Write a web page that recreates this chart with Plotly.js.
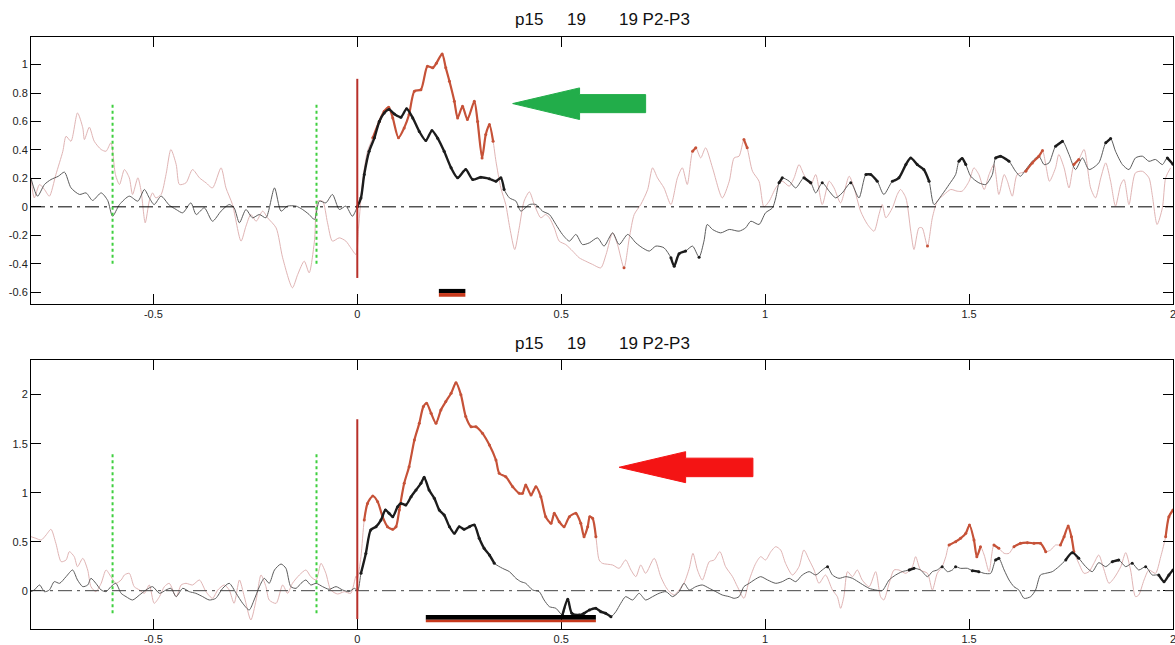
<!DOCTYPE html>
<html><head><meta charset="utf-8">
<script src="https://cdn.plot.ly/plotly-3.0.1.min.js"></script>
<style>html,body{margin:0;padding:0;background:#fff;overflow:hidden}#chart{width:1175px;height:645px}</style>
</head><body><div id="chart"></div>
<script>
// ---------------- data ----------------
const panelTitle = "p15\u00a0\u00a0\u00a0\u00a0\u00a019\u00a0\u00a0\u00a0\u00a0\u00a0\u00a0\u00a019 P2-P3";
const xTickVals = [-0.5, 0, 0.5, 1, 1.5, 2];
const xTickText = ["-0.5", "0", "0.5", "1", "1.5", "2"];
const topYTickVals = [-0.6, -0.4, -0.2, 0, 0.2, 0.4, 0.6, 0.8, 1];
const topYTickText = ["-0.6", "-0.4", "-0.2", "0", "0.2", "0.4", "0.6", "0.8", "1"];
const botYTickVals = [0, 0.5, 1, 1.5, 2];
const botYTickText = ["0", "0.5", "1", "1.5", "2"];

const cueTimes = [-0.6, -0.1];
const onsetTime = [0];

// top panel, dark curve
const topBlackT = [-0.800,-0.784,-0.767,-0.751,-0.733,-0.718,-0.702,-0.681,-0.665,-0.649,-0.628,-0.612,-0.600,-0.583,-0.559,-0.538,-0.522,-0.510,-0.498,-0.481,-0.461,-0.444,-0.428,-0.408,-0.395,-0.375,-0.355,-0.334,-0.314,-0.302,-0.289,-0.273,-0.257,-0.240,-0.224,-0.203,-0.187,-0.171,-0.150,-0.134,-0.118,-0.105,-0.093,-0.077,-0.061,-0.044,-0.028,-0.012,0.000,0.009,0.017,0.029,0.042,0.054,0.066,0.078,0.091,0.107,0.121,0.136,0.152,0.168,0.183,0.197,0.213,0.230,0.246,0.266,0.283,0.303,0.324,0.340,0.352,0.360,0.373,0.389,0.401,0.422,0.438,0.454,0.471,0.487,0.503,0.520,0.536,0.552,0.569,0.589,0.605,0.626,0.642,0.663,0.683,0.699,0.716,0.732,0.752,0.769,0.777,0.789,0.805,0.822,0.838,0.850,0.858,0.871,0.891,0.912,0.936,0.952,0.965,0.985,1.001,1.018,1.026,1.034,1.042,1.059,1.075,1.095,1.112,1.124,1.140,1.157,1.173,1.189,1.210,1.230,1.247,1.259,1.275,1.291,1.312,1.328,1.345,1.357,1.373,1.389,1.402,1.414,1.434,1.451,1.467,1.475,1.483,1.492,1.504,1.524,1.541,1.557,1.565,1.577,1.598,1.614,1.626,1.639,1.655,1.671,1.684,1.696,1.712,1.729,1.745,1.761,1.778,1.794,1.818,1.835,1.847,1.859,1.876,1.892,1.908,1.925,1.941,1.957,1.974,1.986,2.000];
const topBlackV = [0.200,0.075,0.157,0.192,0.215,0.244,0.134,0.087,0.098,0.045,0.098,0.045,-0.066,0.016,0.075,0.040,0.122,0.063,0.016,0.075,0.012,-0.019,-0.042,0.028,-0.054,-0.007,-0.101,-0.030,0.016,-0.007,-0.112,-0.019,-0.077,-0.054,-0.077,0.133,-0.030,0.005,0.005,-0.019,-0.054,-0.089,0.040,0.028,0.087,-0.019,0.005,-0.066,0.000,0.063,0.227,0.390,0.485,0.600,0.660,0.684,0.652,0.630,0.690,0.625,0.530,0.466,0.536,0.483,0.390,0.274,0.204,0.262,0.192,0.208,0.197,0.180,0.204,0.122,0.063,0.040,-0.030,0.016,0.016,-0.030,-0.054,-0.124,-0.194,-0.241,-0.194,-0.265,-0.253,-0.218,-0.276,-0.183,-0.265,-0.194,-0.253,-0.288,-0.311,-0.276,-0.288,-0.358,-0.417,-0.330,-0.311,-0.276,-0.354,-0.241,-0.124,-0.159,-0.183,-0.159,-0.171,-0.148,-0.101,-0.124,-0.042,-0.007,0.063,0.169,0.204,0.180,0.133,0.204,0.169,0.098,0.169,0.110,0.063,0.098,0.169,0.063,0.227,0.227,0.180,0.087,0.180,0.204,0.297,0.344,0.297,0.262,0.180,0.016,0.087,0.157,0.227,0.320,0.340,0.297,0.215,0.169,0.157,0.227,0.344,0.356,0.320,0.250,0.215,0.262,0.320,0.356,0.297,0.309,0.426,0.461,0.368,0.262,0.344,0.262,0.309,0.450,0.480,0.391,0.297,0.262,0.344,0.356,0.320,0.333,0.297,0.344,0.300];
const topBlackSig = [[0.0,0.36],[0.765,0.81],[0.834,0.845],[1.03,1.05],[1.09,1.115],[1.135,1.145],[1.205,1.215],[1.24,1.275],[1.31,1.405],[1.47,1.495],[1.56,1.60],[1.70,1.735],[1.83,1.85],[1.985,2.0]];

// top panel, light curve
const topPinkT = [-0.800,-0.792,-0.779,-0.767,-0.755,-0.739,-0.722,-0.714,-0.702,-0.686,-0.673,-0.669,-0.657,-0.645,-0.628,-0.616,-0.604,-0.593,-0.583,-0.571,-0.559,-0.551,-0.538,-0.530,-0.520,-0.510,-0.502,-0.494,-0.481,-0.469,-0.457,-0.444,-0.436,-0.420,-0.404,-0.387,-0.371,-0.355,-0.334,-0.322,-0.306,-0.285,-0.273,-0.261,-0.248,-0.232,-0.220,-0.199,-0.183,-0.159,-0.146,-0.130,-0.118,-0.105,-0.097,-0.085,-0.073,-0.061,-0.044,-0.028,-0.016,-0.003,0.003,0.013,0.025,0.038,0.054,0.066,0.077,0.087,0.101,0.115,0.127,0.140,0.156,0.172,0.185,0.194,0.208,0.217,0.226,0.238,0.246,0.258,0.270,0.287,0.295,0.306,0.315,0.324,0.333,0.340,0.352,0.364,0.374,0.386,0.397,0.409,0.422,0.434,0.450,0.462,0.471,0.483,0.495,0.511,0.528,0.544,0.560,0.577,0.597,0.610,0.626,0.638,0.654,0.667,0.679,0.695,0.712,0.724,0.736,0.752,0.769,0.785,0.797,0.809,0.822,0.830,0.842,0.854,0.871,0.895,0.912,0.924,0.936,0.948,0.956,0.969,0.985,0.997,1.010,1.026,1.042,1.059,1.071,1.083,1.095,1.112,1.124,1.140,1.157,1.169,1.185,1.206,1.218,1.234,1.251,1.267,1.279,1.287,1.296,1.312,1.324,1.332,1.345,1.357,1.365,1.377,1.385,1.398,1.410,1.422,1.439,1.455,1.471,1.483,1.500,1.512,1.524,1.537,1.549,1.561,1.573,1.586,1.594,1.606,1.618,1.639,1.655,1.671,1.680,1.688,1.697,1.712,1.720,1.733,1.745,1.757,1.769,1.782,1.798,1.810,1.823,1.835,1.847,1.859,1.872,1.880,1.892,1.908,1.925,1.941,1.949,1.961,1.974,1.982,1.994];
const topPinkV = [0.204,0.063,0.157,0.122,0.075,0.227,0.390,0.496,0.461,0.660,0.555,0.473,0.560,0.461,0.403,0.391,0.450,0.227,0.157,0.262,0.204,0.087,0.204,0.110,-0.112,0.040,0.098,0.063,0.087,0.227,0.403,0.297,0.157,0.169,0.262,0.204,0.169,0.133,0.274,0.133,0.016,-0.241,-0.136,-0.054,-0.101,-0.030,-0.077,-0.148,-0.358,-0.569,-0.475,-0.382,-0.464,-0.241,0.040,0.040,-0.112,-0.241,-0.218,-0.241,-0.288,-0.335,-0.150,0.180,0.390,0.485,0.600,0.672,0.700,0.625,0.485,0.555,0.649,0.813,0.824,0.988,0.977,1.010,1.075,0.977,0.883,0.742,0.625,0.707,0.614,0.742,0.600,0.344,0.508,0.578,0.461,0.320,0.133,0.016,-0.148,-0.300,-0.148,0.040,0.105,0.016,-0.077,-0.054,-0.077,-0.148,-0.241,-0.265,-0.311,-0.358,-0.382,-0.405,-0.429,-0.335,-0.183,-0.265,-0.429,-0.218,-0.054,0.016,0.122,0.274,0.204,0.133,0.016,0.204,0.274,0.157,0.390,0.415,0.344,0.415,0.274,0.063,0.180,0.344,0.356,0.473,0.415,0.250,0.180,0.000,0.040,0.133,0.180,0.145,0.204,0.297,0.227,0.157,0.227,0.016,0.180,0.133,0.028,0.215,0.133,-0.030,-0.124,-0.171,-0.054,0.016,-0.077,-0.007,0.087,0.122,0.063,-0.171,-0.300,-0.148,-0.148,-0.276,-0.077,0.040,0.087,0.122,0.110,0.110,0.180,0.274,0.227,0.122,0.227,0.297,0.087,0.227,0.180,0.075,0.227,0.250,0.309,0.356,0.396,0.297,0.180,0.274,0.368,0.274,0.133,0.297,0.333,0.403,0.133,0.063,0.204,0.309,0.180,0.005,0.157,0.192,0.016,0.239,0.250,0.204,0.087,-0.124,-0.007,0.204,0.274];
const topPinkSig = [[0.03,0.335],[0.65,0.66],[0.818,0.832],[0.945,0.96],[1.395,1.40],[1.635,1.685],[1.755,1.77]];

// bottom panel, dark curve
const botBlackT = [-0.800,-0.792,-0.779,-0.767,-0.755,-0.743,-0.730,-0.714,-0.698,-0.686,-0.673,-0.661,-0.653,-0.641,-0.628,-0.616,-0.604,-0.592,-0.579,-0.567,-0.551,-0.534,-0.518,-0.502,-0.485,-0.469,-0.457,-0.444,-0.428,-0.412,-0.396,-0.379,-0.363,-0.347,-0.330,-0.314,-0.297,-0.281,-0.265,-0.253,-0.240,-0.228,-0.216,-0.203,-0.187,-0.175,-0.163,-0.150,-0.138,-0.126,-0.114,-0.101,-0.085,-0.069,-0.052,-0.036,-0.020,-0.007,0.001,0.009,0.021,0.033,0.046,0.058,0.069,0.078,0.087,0.099,0.107,0.119,0.132,0.144,0.156,0.164,0.176,0.189,0.201,0.213,0.226,0.238,0.250,0.262,0.275,0.287,0.299,0.311,0.324,0.336,0.356,0.373,0.389,0.401,0.413,0.430,0.446,0.458,0.471,0.487,0.503,0.516,0.526,0.544,0.556,0.569,0.585,0.597,0.609,0.622,0.634,0.646,0.658,0.675,0.691,0.707,0.724,0.740,0.757,0.773,0.789,0.801,0.814,0.830,0.846,0.863,0.879,0.895,0.912,0.924,0.936,0.948,0.961,0.973,0.989,1.006,1.026,1.042,1.059,1.075,1.091,1.108,1.124,1.140,1.153,1.165,1.181,1.198,1.214,1.234,1.255,1.271,1.287,1.304,1.320,1.336,1.353,1.365,1.381,1.398,1.410,1.422,1.434,1.447,1.459,1.467,1.479,1.496,1.508,1.524,1.537,1.553,1.565,1.573,1.586,1.598,1.610,1.622,1.635,1.651,1.663,1.675,1.688,1.704,1.720,1.737,1.753,1.769,1.786,1.802,1.818,1.835,1.851,1.867,1.884,1.900,1.916,1.933,1.949,1.965,1.978,1.990,2.000];
const botBlackV = [-0.010,0.007,0.058,-0.010,0.007,0.092,0.075,0.143,0.211,0.109,0.041,0.058,0.126,0.075,0.007,-0.010,0.041,0.075,-0.027,-0.061,-0.095,-0.044,0.007,0.041,-0.027,0.007,0.024,-0.061,0.024,-0.010,-0.027,-0.061,-0.095,-0.078,0.024,0.075,-0.027,-0.129,-0.197,-0.095,0.041,0.126,0.075,0.211,0.272,0.228,0.041,0.024,0.075,0.109,0.058,0.075,0.041,0.014,0.041,0.007,-0.010,0.024,0.000,0.177,0.380,0.620,0.653,0.720,0.823,0.789,0.755,0.857,0.890,0.874,0.959,1.027,1.095,1.156,1.027,0.942,0.823,0.772,0.653,0.585,0.653,0.626,0.653,0.670,0.534,0.432,0.364,0.279,0.228,0.194,0.126,0.092,0.075,0.007,-0.010,-0.095,-0.163,-0.180,-0.248,-0.088,-0.231,-0.248,-0.231,-0.197,-0.180,-0.214,-0.231,-0.265,-0.214,-0.129,-0.061,-0.095,-0.027,-0.095,-0.061,-0.027,-0.010,-0.061,-0.010,0.075,0.007,0.041,0.058,0.024,-0.010,-0.044,-0.061,-0.078,-0.061,0.041,0.075,0.109,0.143,0.109,0.075,0.092,0.126,0.092,0.160,0.194,0.160,0.211,0.245,0.160,0.126,0.143,0.126,0.075,0.024,0.007,0.000,0.109,0.160,0.194,0.211,0.228,0.211,0.143,0.194,0.211,0.245,0.194,0.211,0.245,0.228,0.228,0.204,0.194,0.177,0.177,0.313,0.330,0.211,0.109,0.041,0.007,-0.078,-0.061,0.007,0.160,0.177,0.194,0.245,0.313,0.388,0.330,0.245,0.194,0.286,0.245,0.296,0.313,0.245,0.279,0.211,0.245,0.160,0.160,0.092,0.160,0.211];
const botBlackSig = [[0.005,0.336],[0.50,0.63],[1.145,1.16],[1.345,1.37],[1.43,1.44],[1.46,1.47],[1.505,1.525],[1.56,1.58],[1.735,1.785],[1.845,1.875],[1.89,1.91],[1.925,1.94],[1.955,1.98],[1.99,2.0]];

// bottom panel, light curve
const botPinkT = [-0.800,-0.788,-0.775,-0.763,-0.751,-0.739,-0.726,-0.714,-0.706,-0.694,-0.686,-0.673,-0.661,-0.653,-0.641,-0.628,-0.616,-0.604,-0.592,-0.579,-0.571,-0.559,-0.547,-0.534,-0.522,-0.510,-0.498,-0.485,-0.473,-0.461,-0.444,-0.432,-0.420,-0.404,-0.387,-0.371,-0.355,-0.342,-0.326,-0.314,-0.302,-0.289,-0.277,-0.261,-0.248,-0.236,-0.224,-0.216,-0.199,-0.183,-0.171,-0.159,-0.142,-0.126,-0.114,-0.101,-0.089,-0.077,-0.065,-0.048,-0.032,-0.016,-0.003,0.000,0.009,0.017,0.025,0.038,0.050,0.062,0.074,0.087,0.095,0.103,0.115,0.127,0.140,0.152,0.162,0.170,0.181,0.193,0.205,0.217,0.230,0.242,0.254,0.266,0.279,0.291,0.307,0.324,0.340,0.348,0.364,0.381,0.397,0.405,0.413,0.426,0.438,0.450,0.462,0.475,0.483,0.495,0.507,0.520,0.536,0.548,0.556,0.565,0.570,0.577,0.585,0.593,0.601,0.626,0.642,0.658,0.671,0.683,0.695,0.707,0.728,0.744,0.756,0.765,0.777,0.789,0.801,0.814,0.823,0.834,0.846,0.863,0.875,0.889,0.903,0.920,0.932,0.948,0.961,0.977,0.989,1.001,1.014,1.026,1.038,1.050,1.067,1.083,1.095,1.108,1.120,1.132,1.148,1.165,1.177,1.185,1.193,1.202,1.214,1.226,1.238,1.255,1.271,1.283,1.291,1.304,1.316,1.328,1.345,1.361,1.369,1.381,1.398,1.410,1.422,1.434,1.443,1.451,1.467,1.479,1.492,1.501,1.512,1.519,1.528,1.537,1.549,1.561,1.573,1.586,1.598,1.610,1.626,1.643,1.659,1.675,1.688,1.700,1.712,1.724,1.733,1.743,1.751,1.757,1.769,1.782,1.794,1.806,1.818,1.831,1.843,1.855,1.872,1.884,1.896,1.908,1.916,1.929,1.941,1.957,1.970,1.982,1.990,2.000];
const botPinkV = [0.551,0.534,0.517,0.568,0.626,0.483,0.296,0.313,0.398,0.347,0.245,0.330,0.211,0.041,-0.010,0.075,0.211,0.143,0.075,0.109,0.160,0.177,0.041,0.007,-0.027,0.058,-0.129,-0.061,0.041,0.075,-0.061,0.058,0.075,0.058,0.109,-0.010,-0.078,0.007,0.058,0.007,-0.129,0.109,-0.061,-0.299,-0.095,0.160,0.041,-0.095,-0.129,0.058,-0.027,0.075,0.160,0.211,0.143,0.109,0.279,0.177,0.007,-0.034,-0.010,-0.027,0.150,0.120,0.347,0.720,0.890,0.966,0.908,0.755,0.653,0.626,0.653,0.823,1.095,1.265,1.537,1.707,1.878,1.912,1.810,1.707,1.844,1.929,2.014,2.122,2.000,1.776,1.673,1.673,1.605,1.486,1.333,1.197,1.163,1.061,0.993,0.993,1.078,0.976,1.061,0.959,0.755,0.687,0.789,0.704,0.653,0.755,0.789,0.687,0.551,0.653,0.755,0.738,0.551,0.313,0.279,0.262,0.228,0.313,0.211,0.143,0.262,0.177,0.330,0.143,0.041,-0.010,-0.044,0.007,0.075,0.228,0.381,0.211,0.109,0.296,0.313,0.398,0.245,0.143,0.041,-0.078,0.109,0.279,0.347,0.313,0.398,0.449,0.415,0.279,0.160,0.245,0.415,0.313,0.211,0.075,0.160,0.007,-0.061,-0.180,-0.061,0.194,0.143,0.211,0.109,0.041,0.194,-0.061,-0.095,0.075,0.211,0.211,0.177,0.245,0.347,0.211,0.177,0.007,0.177,0.245,0.347,0.466,0.500,0.534,0.585,0.670,0.517,0.347,0.449,0.364,0.194,0.466,0.432,0.381,0.381,0.449,0.483,0.490,0.483,0.483,0.398,0.415,0.466,0.466,0.551,0.660,0.551,0.398,0.279,0.177,0.194,0.279,0.364,0.211,0.075,0.126,0.245,0.388,0.211,-0.061,-0.044,0.109,0.211,0.177,0.347,0.551,0.755,0.823];
const botPinkSig = [[0.015,0.585],[1.45,1.53],[1.555,1.575],[1.605,1.69],[1.72,1.757],[1.98,2.0]];

// significance bars under the curves
const topSigBar = [0.2, 0.265];
const botSigBar = [0.168, 0.585];

// ---------------- build ----------------
const FONT = 'Arial, "Liberation Sans", sans-serif';
function bold(t, v, sig) {
  return v.map((y, i) => sig.some(([a, b]) => t[i] >= a && t[i] <= b) ? y : null);
}
const thinBlack = '#5c5c5c', thinPink = '#e0b4b4', boldBlack = '#1c1c1c', boldRed = '#c65238';

function panelTraces(tB, vB, sB, tP, vP, sP, xa, ya) {
  return [
    {x: tP, y: vP, xaxis: xa, yaxis: ya, mode: 'lines', line: {color: thinPink, width: 1, shape: 'spline', smoothing: 0.7}},
    {x: tB, y: vB, xaxis: xa, yaxis: ya, mode: 'lines', line: {color: thinBlack, width: 1, shape: 'spline', smoothing: 0.7}},
    {x: tP, y: bold(tP, vP, sP), xaxis: xa, yaxis: ya, mode: 'lines+markers', connectgaps: false,
      line: {color: boldRed, width: 2.2, shape: 'spline', smoothing: 0.7}, marker: {color: boldRed, size: 3}},
    {x: tB, y: bold(tB, vB, sB), xaxis: xa, yaxis: ya, mode: 'lines+markers', connectgaps: false,
      line: {color: boldBlack, width: 2.4, shape: 'spline', smoothing: 0.7}, marker: {color: boldBlack, size: 3}}
  ];
}
const data = [
  ...panelTraces(topBlackT, topBlackV, topBlackSig, topPinkT, topPinkV, topPinkSig, 'x', 'y'),
  ...panelTraces(botBlackT, botBlackV, botBlackSig, botPinkT, botPinkV, botPinkSig, 'x2', 'y2')
];

function xAxis(anchor) {
  return {anchor: anchor, domain: [0, 1], range: [-0.8, 2], tickvals: xTickVals, ticktext: xTickText,
    ticks: 'inside', ticklen: 10, tickcolor: '#000', mirror: 'ticks', showline: true, linecolor: '#000',
    linewidth: 1, showgrid: false, zeroline: false, ticklabeloverflow: 'allow',
    tickfont: {family: FONT, size: 11, color: '#222'}};
}
function yAxis(anchor, dom, rng, tv, tt) {
  return {anchor: anchor, domain: dom, range: rng, tickvals: tv, ticktext: tt,
    ticks: 'inside', ticklen: 10, tickcolor: '#000', mirror: 'ticks', showline: true, linecolor: '#000',
    linewidth: 1, showgrid: false, zeroline: false, ticklabeloverflow: 'allow',
    tickfont: {family: FONT, size: 11, color: '#222'}};
}

const shapes = [];
function panelShapes(xr, yr, greenY, redY, bar, barY, zeroColor) {
  shapes.push({type: 'line', xref: xr, yref: yr, x0: -0.8, x1: 2, y0: 0, y1: 0,
    line: {color: zeroColor, width: 1, dash: '14px,5px,3px,5px'}});
  cueTimes.forEach(c => shapes.push({type: 'line', xref: xr, yref: yr, x0: c, x1: c, y0: greenY[0], y1: greenY[1],
    line: {color: '#3fcf3f', width: 2, dash: 'dot'}}));
  onsetTime.forEach(c => shapes.push({type: 'line', xref: xr, yref: yr, x0: c, x1: c, y0: redY[0], y1: redY[1],
    line: {color: '#b8302a', width: 2}}));
  shapes.push({type: 'rect', xref: xr, yref: yr, x0: bar[0], x1: bar[1], y0: barY[0], y1: barY[1],
    fillcolor: '#000', line: {width: 0}});
  shapes.push({type: 'rect', xref: xr, yref: yr, x0: bar[0], x1: bar[1], y0: barY[2], y1: barY[0],
    fillcolor: '#c7391c', line: {width: 0}});
}
panelShapes('x', 'y', [-0.4, 0.72], [-0.5, 0.9], topSigBar, [-0.606, -0.577, -0.632], '#000');
panelShapes('x2', 'y2', [-0.23, 1.41], [-0.29, 1.75], botSigBar, [-0.297, -0.248, -0.323], '#444');

// block arrows (decoration)
function arrowPath(tip, base, end, head, shaft) {
  return `M ${tip[0]},${tip[1]} L ${base},${head[0]} L ${base},${shaft[0]} L ${end},${shaft[0]} ` +
    `L ${end},${shaft[1]} L ${base},${shaft[1]} L ${base},${head[1]} Z`;
}
shapes.push({type: 'path', xref: 'x', yref: 'y', path: arrowPath([0.381, 0.726], 0.545, 0.707, [0.836, 0.614], [0.789, 0.662]),
  fillcolor: '#22ad4a', line: {color: '#22ad4a', width: 1}});
shapes.push({type: 'path', xref: 'x2', yref: 'y2', path: arrowPath([0.642, 1.259], 0.805, 0.970, [1.418, 1.102], [1.352, 1.163]),
  fillcolor: '#f41414', line: {color: '#f41414', width: 1}});

const annotations = [
  {xref: 'x domain', yref: 'y domain', x: 0.5, y: 1, yanchor: 'bottom', yshift: 6, showarrow: false,
    text: panelTitle, font: {family: FONT, size: 17, color: '#111'}},
  {xref: 'x2 domain', yref: 'y2 domain', x: 0.5, y: 1, yanchor: 'bottom', yshift: 5, showarrow: false,
    text: panelTitle, font: {family: FONT, size: 17, color: '#111'}}
];

const layout = {
  width: 1175, height: 645, margin: {l: 31, r: 2, t: 37, b: 16},
  paper_bgcolor: '#fff', plot_bgcolor: '#fff', showlegend: false, hovermode: false,
  xaxis: xAxis('y'), yaxis: yAxis('x', [0.549, 1], [-0.683, 1.194], topYTickVals, topYTickText),
  xaxis2: xAxis('y2'), yaxis2: yAxis('x2', [0, 0.454], [-0.391, 2.351], botYTickVals, botYTickText),
  shapes: shapes, annotations: annotations
};
Plotly.newPlot('chart', data, layout, {staticPlot: true, displayModeBar: false});
</script></body></html>
